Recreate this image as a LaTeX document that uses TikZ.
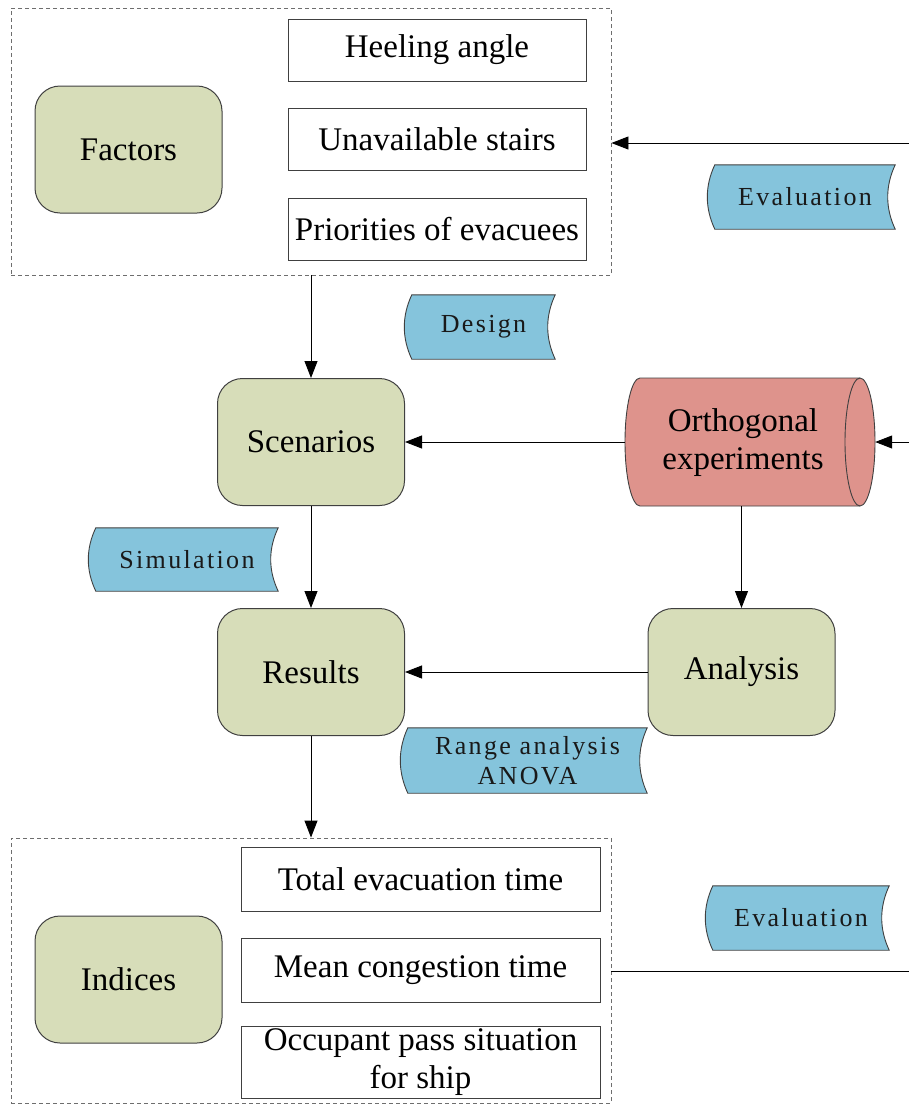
\documentclass[tikz,border=0pt]{standalone}
\usepackage{fontspec}
\setmainfont{Liberation Serif}
\newfontfamily\tapefont[LetterSpace=9]{Liberation Serif}
\usetikzlibrary{arrows.meta,calc,backgrounds}
\definecolor{boxgreen}{RGB}{215,221,185}
\definecolor{tapeblue}{RGB}{133,196,220}
\definecolor{cylred}{RGB}{222,147,140}
\definecolor{linegray}{RGB}{64,64,64}
\definecolor{dashgray}{RGB}{110,110,110}
\tikzset{
  base/.style={font=\fontsize{33}{38}\selectfont, align=center, inner sep=0pt, text=black},
  rbox/.style={base, draw=linegray, fill=boxgreen, rounded corners=25pt, minimum width=187pt, minimum height=127pt, line width=1pt},
  wbox/.style={base, draw=linegray, fill=white, line width=1pt},
  dbox/.style={draw=dashgray, dash pattern=on 4pt off 3pt, line width=0.9pt, inner sep=0pt},
  tapenode/.style={font=\tapefont\fontsize{26}{30}\selectfont, align=center, inner sep=0pt, text=black!90},
  tapeshape/.style={draw=linegray, fill=tapeblue, line width=0.9pt},
  arr/.style={line width=0.9pt, -{Triangle[length=17pt,width=13pt]}},
  ln/.style={line width=0.9pt},
}
\newcommand{\drawtape}[1]{%
  \begin{scope}[on background layer]
    \filldraw[tapeshape] (#1.north west)
      .. controls ($(#1.north west)!0.33!(#1.south west)+(-10,0)$) and ($(#1.north west)!0.67!(#1.south west)+(-10,0)$) .. (#1.south west)
      -- (#1.south east)
      .. controls ($(#1.north east)!0.67!(#1.south east)+(-10,0)$) and ($(#1.north east)!0.33!(#1.south east)+(-10,0)$) .. (#1.north east)
      -- cycle;
  \end{scope}}
\begin{document}
\begin{tikzpicture}[x=1pt,y=-1pt]
\useasboundingbox (0,0) rectangle (909,1106);

% top group
\node[dbox, minimum width=600pt, minimum height=267pt] (fbox) at (311,141.5) {};
\node[rbox] (factors) at (128.5,149.5) {Factors};
\node[wbox, minimum width=298pt, minimum height=62pt] (heel) at (437,50) {Heeling angle};
\node[wbox, minimum width=298pt, minimum height=62pt] (stairs) at (437,139.5) {Unavailable stairs};
\node[wbox, minimum width=298pt, minimum height=62pt] (prio) at (437,229) {Priorities of evacuees};

% bottom group
\node[dbox, minimum width=600pt, minimum height=265pt] (ibox) at (311,970.5) {};
\node[rbox] (indices) at (128.5,979.5) {Indices};
\node[wbox, minimum width=359pt, minimum height=64pt] (total) at (420.5,879) {Total evacuation time};
\node[wbox, minimum width=359pt, minimum height=64pt] (mean) at (420.5,970) {Mean congestion time};
\node[wbox, minimum width=359pt, minimum height=72pt] (occ) at (420.5,1062) {Occupant pass situation\\for ship};

% middle
\node[rbox] (scen) at (311,442) {Scenarios};
\node[rbox] (res) at (311,672) {Results};
\node[rbox] (ana) at (741.5,672) {Analysis};

% cylinder
\node[base, minimum width=250pt, minimum height=128pt] (orth) at (750,442) {};
\begin{scope}[on background layer]
  \filldraw[draw=linegray, fill=cylred, line width=0.9pt]
    (640,378) -- (860,378)
    .. controls (868.3,378) and (875,406.7) .. (875,442)
    .. controls (875,477.3) and (868.3,506) .. (860,506)
    -- (640,506)
    .. controls (631.7,506) and (625,477.3) .. (625,442)
    .. controls (625,406.7) and (631.7,378) .. (640,378) -- cycle;
  \draw[linegray, line width=0.9pt] (860,378)
    .. controls (851.7,378) and (845,406.7) .. (845,442)
    .. controls (845,477.3) and (851.7,506) .. (860,506);
\end{scope}
\node[base] (orthtext) at (743,443) {Orthogonal\\experiments};

% tapes
\node[tapenode, minimum width=180pt, minimum height=64pt] (eval1) at (805,197) {Evaluation};
\drawtape{eval1}
\node[tapenode, minimum width=143pt, minimum height=64pt] (design) at (483.5,327) {Design};
\drawtape{design}
\node[tapenode, minimum width=182pt, minimum height=63pt] (sim) at (187,559.5) {Simulation};
\drawtape{sim}
\node[tapenode, minimum width=239pt, minimum height=65pt] (range) at (527.5,760.5) {Range analysis\\ANOVA};
\drawtape{range}
\node[tapenode, minimum width=176pt, minimum height=64pt] (eval2) at (801,918) {Evaluation};
\drawtape{eval2}

% connectors
\coordinate (r1) at (909,143);
\coordinate (r2) at (909,442);
\coordinate (r3) at (909,971);
\draw[arr] (r1) -- (r1 -| fbox.east);
\draw[arr] (fbox.south) -- (scen.north);
\draw[arr] (r2) -- (orth.east);
\draw[arr] (orth.west) -- (scen.east);
\draw[arr] (scen.south) -- (res.north);
\draw[arr] (orth.south -| ana.north) -- (ana.north);
\draw[arr] (ana.west) -- (res.east);
\draw[arr] (res.south) -- (ibox.north);
\draw[ln] (ibox.east |- r3) -- (r3);
\end{tikzpicture}
\end{document}
